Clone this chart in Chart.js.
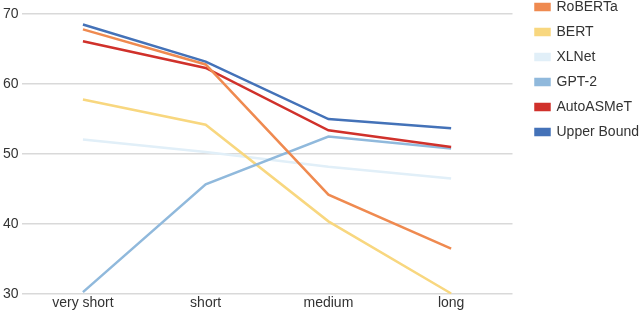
<!DOCTYPE html>
<html>
<head>
<meta charset="utf-8">
<script src="https://cdn.jsdelivr.net/npm/chart.js@4"></script>
<style>
    html, body { margin: 0; padding: 0; background: #fff; }
    #wrap { width: 640px; height: 313px; }
</style>
</head>
<body>
<div id="wrap"><canvas id="chart"></canvas></div>
<script>
var labels = ['very short', 'short', 'medium', 'long'];
var roberta = [67.8, 62.8, 44.2, 36.5];
var bert = [57.8, 54.2, 40.4, 30.1];
var xlnet = [52.1, 50.3, 48.2, 46.5];
var gpt2 = [30.3, 45.7, 52.5, 50.8];
var autoasmet = [66.1, 62.3, 53.4, 51.0];
var upperBound = [68.5, 63.2, 55.0, 53.7];
var yTicks = [30, 40, 50, 60, 70];

var font = { family: 'Liberation Sans, Arial', size: 14 };

function makeSet(label, data, color, order) {
    return {
        label: label,
        data: data,
        borderColor: color,
        backgroundColor: color,
        borderWidth: 2.5,
        pointRadius: 0,
        tension: 0,
        fill: false,
        order: order
    };
}

// move the legend up to the top edge like the original
var legendShift = {
    id: 'legendShift',
    afterLayout: function (chart) {
        var dy = chart.legend.top + 18 - 7;
        chart.legend.top -= dy;
        chart.legend.bottom -= dy;
        chart.legend.left += 12;
        chart.legend.right += 12;
    }
};

var ctx = document.getElementById('chart').getContext('2d');
new Chart(ctx, {
    type: 'line',
    data: {
        labels: labels,
        datasets: [
            makeSet('RoBERTa', roberta, '#ef8a50', 1),
            makeSet('BERT', bert, '#f8d77f', 4),
            makeSet('XLNet', xlnet, '#e1eff8', 5),
            makeSet('GPT-2', gpt2, '#90b9dc', 3),
            makeSet('AutoASMeT', autoasmet, '#d0312b', 2),
            makeSet('Upper Bound', upperBound, '#4472b8', 0)
        ]
    },
    options: {
        responsive: true,
        maintainAspectRatio: false,
        animation: false,
        layout: { padding: { top: 14, right: 3, left: 0, bottom: 0 } },
        plugins: {
            legend: {
                position: 'right',
                align: 'start',
                labels: {
                    boxWidth: 14,
                    boxHeight: 6,
                    padding: 11,
                    color: '#333',
                    font: font,
                    sort: function (a, b) { return a.datasetIndex - b.datasetIndex; }
                }
            },
            tooltip: { enabled: false }
        },
        scales: {
            x: {
                offset: true,
                grid: { display: false, drawTicks: false },
                border: { display: false },
                ticks: { color: '#333', padding: 1, font: font }
            },
            y: {
                min: 30,
                max: 70,
                afterBuildTicks: function (axis) {
                    axis.ticks = yTicks.map(function (v) { return { value: v }; });
                },
                grid: { color: '#d9d9d9', lineWidth: 1.5, drawTicks: false },
                border: { display: false },
                ticks: { color: '#333', padding: 3, font: font }
            }
        }
    },
    plugins: [legendShift]
});
</script>
</body>
</html>
